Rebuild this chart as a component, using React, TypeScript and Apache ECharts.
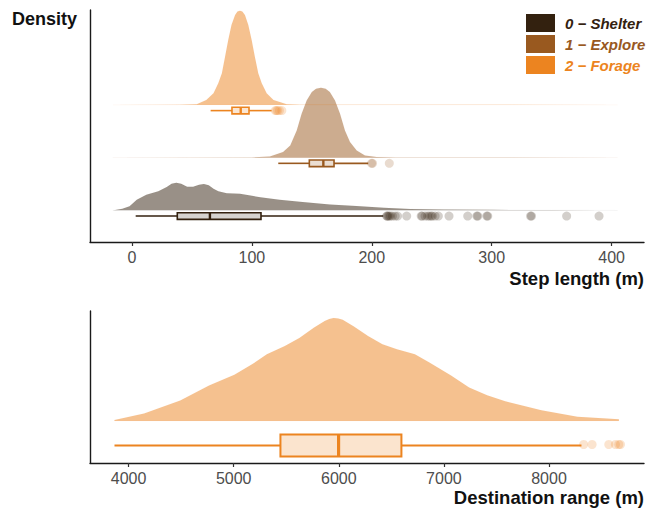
import React, { useEffect, useRef } from 'react';
import * as echarts from 'echarts';

// ---------- data ----------
const stateNames = ['0 − Shelter', '1 − Explore', '2 − Forage'];
const stateColors = ['#33210f', '#99591f', '#ec8420'];

const stepTicks = [0, 100, 200, 300, 400];
const rangeTicks = [4000, 5000, 6000, 7000, 8000];

// step length densities [step (m), density]
const shelterDensity: number[][] = [
  [-16, 0], [-14, 0.0001], [-8, 0.0006], [-2, 0.0016], [4, 0.0042], [12, 0.0062], [22, 0.0076],
  [29, 0.0093], [33, 0.0106], [37, 0.011], [41, 0.0106], [46, 0.0094], [51, 0.0094],
  [56, 0.0102], [60, 0.0105], [64, 0.01], [68, 0.0086], [72, 0.0076], [79, 0.0068],
  [90, 0.0066], [100, 0.0058], [107, 0.0052], [123, 0.0042], [140, 0.0034], [165, 0.0023],
  [187, 0.0017], [210, 0.001], [232, 0.00056], [260, 0.00032], [300, 0.0002], [350, 0.00012],
  [390, 0.00006], [405, 0],
];
const exploreDensity: number[][] = [
  [-16, 0], [100, 0.0001], [115, 0.0005], [126, 0.0023], [132, 0.0049], [137.4, 0.0109],
  [141.5, 0.0176], [145.7, 0.0229], [150, 0.0263], [153.5, 0.0276], [157.6, 0.028],
  [161.5, 0.0276], [165, 0.0263], [169.3, 0.0229], [173.5, 0.0176], [177.6, 0.0109],
  [181.8, 0.0063], [187.4, 0.0029], [194.3, 0.0009], [204, 0.0003], [220, 0.0001], [405, 0],
];
const forageDensity: number[][] = [
  [-16, 0], [40, 0.0001], [54, 0.0003], [62, 0.002], [68, 0.0047], [72, 0.0087], [75, 0.0127],
  [77.6, 0.0192], [80.3, 0.026], [83, 0.032], [86, 0.036], [88, 0.0374], [90, 0.0377],
  [92, 0.0374], [94.2, 0.036], [97, 0.032], [99.8, 0.026], [102.5, 0.0192], [105.3, 0.0127],
  [108.2, 0.0087], [112.3, 0.0047], [118, 0.002], [129, 0.0003], [140, 0.0001], [405, 0],
];

// boxplots [lower whisker, Q1, median, Q3, upper whisker]
const shelterBox = [3.1, 37.8, 65, 107.6, 209.6];
const exploreBox = [122, 147.9, 159.6, 168.5, 197];
const forageBox = [65.6, 83.4, 90.7, 97.6, 116.5];

const shelterOutliers = [
  212.4, 212.8, 213.6, 214.4, 215.6, 217.2, 219.5, 221.5, 229.1, 241.2, 242, 244.4, 246.5,
  248, 249.5, 250.5, 252.8, 255.5, 264.4, 280, 287.6, 288.4, 295.9, 296.7, 332.4, 333.2,
  362.5, 389.5,
];
const exploreOutliers = [199.8, 200.6, 214.6];
const forageOutliers = [119.5, 120.5, 121.5, 123, 125];

// destination range density [range (m), density x 1e-4]
const rangeDensity: number[][] = [
  [3866, 0.04], [4148, 0.32], [4492, 0.88], [4766, 1.52], [5007, 1.98], [5179, 2.43],
  [5316, 2.85], [5487, 3.2], [5625, 3.55], [5762, 3.98], [5866, 4.27], [5910, 4.36], [5951, 4.4],
  [5995, 4.38], [6037, 4.32], [6140, 4.05], [6278, 3.63], [6415, 3.28], [6553, 3.06], [6724, 2.85],
  [6862, 2.5], [7068, 1.94], [7240, 1.43], [7411, 1.1], [7583, 0.84], [7927, 0.46],
  [8270, 0.18], [8665, 0.07],
];
const rangeBox = [3866, 5445, 5998, 6596, 8309];
const rangeOutliers = [8330, 8410, 8569, 8632, 8664, 8680];

// ---------- styling constants ----------
const FONT = '"Liberation Sans", Arial, Helvetica, sans-serif';
const RIDGE_SCALE = 47.4; // ridge units per density unit
const TOP_BOX_OFFSET = 5.7; // px below ridge baseline
const TOP_BOX_HALF = 3.3;
const BOTTOM_BOX_OFFSET = 24.5;
const BOTTOM_BOX_HALF = 11;

function rgba(hex: string, a: number) {
  const h = hex.replace('#', '');
  const r = parseInt(h.slice(0, 2), 16);
  const g = parseInt(h.slice(2, 4), 16);
  const b = parseInt(h.slice(4, 6), 16);
  return `rgba(${r},${g},${b},${a})`;
}

function densitySeries(name: string, pts: number[][], level: number, scale: number, color: string, axis: number) {
  return {
    type: 'custom',
    name,
    xAxisIndex: axis,
    yAxisIndex: axis,
    silent: true,
    itemStyle: { color },
    encode: { x: 0, y: 1 },
    data: pts.map(([x, d]) => [x, level + d * scale]),
    renderItem: (params: any, api: any) => {
      if (params.dataIndex !== 0) return null;
      const top = pts.map(([x, d]) => api.coord([x, level + d * scale]));
      const first = api.coord([pts[0][0], level]);
      const last = api.coord([pts[pts.length - 1][0], level]);
      return {
        type: 'polygon',
        shape: { points: [first, ...top, last] },
        style: { fill: rgba(color, 0.5), stroke: rgba(color, 0.025), lineWidth: 1 },
      };
    },
  };
}

function boxSeries(name: string, box: number[], level: number, color: string, axis: number, offset: number, half: number, lw: number, medW: number, fillA: number) {
  return {
    type: 'custom',
    name,
    xAxisIndex: axis,
    yAxisIndex: axis,
    silent: true,
    encode: { x: [0, 1, 2, 3, 4], y: 5 },
    data: [[...box, level]],
    renderItem: (params: any, api: any) => {
      const lv = api.value(5);
      const p = [0, 1, 2, 3, 4].map((i) => api.coord([api.value(i), lv]));
      const y = p[0][1] + offset;
      return {
        type: 'group',
        children: [
          { type: 'line', shape: { x1: p[0][0], y1: y, x2: p[1][0], y2: y }, style: { stroke: color, lineWidth: lw } },
          { type: 'line', shape: { x1: p[3][0], y1: y, x2: p[4][0], y2: y }, style: { stroke: color, lineWidth: lw } },
          {
            type: 'rect',
            shape: { x: p[1][0], y: y - half, width: p[3][0] - p[1][0], height: half * 2 },
            style: { fill: rgba(color, fillA), stroke: color, lineWidth: lw },
          },
          { type: 'line', shape: { x1: p[2][0], y1: y - half, x2: p[2][0], y2: y + half }, style: { stroke: color, lineWidth: medW } },
        ],
      };
    },
  };
}

function outlierSeries(name: string, vals: number[], level: number, color: string, axis: number, offset: number, size: number) {
  return {
    type: 'scatter',
    name,
    xAxisIndex: axis,
    yAxisIndex: axis,
    silent: true,
    symbol: 'circle',
    symbolSize: size,
    symbolOffset: [0, offset],
    itemStyle: { color: rgba(color, 0.27) },
    data: vals.map((v) => [v, level]),
  };
}

export default function App() {
  const ref = useRef<HTMLDivElement>(null);
  useEffect(() => {
    if (!ref.current) return;
    const chart = echarts.init(ref.current, undefined, { renderer: 'svg' });
    const axisLine = { show: true, onZero: false, lineStyle: { color: '#1a1a1a', width: 1.4 } };
    const xLabel = { color: '#4d4d4d', fontSize: 16, margin: 7, fontFamily: FONT, formatter: (v: number) => String(v) };
    const densities = [shelterDensity, exploreDensity, forageDensity];
    const boxes = [shelterBox, exploreBox, forageBox];
    const outs = [shelterOutliers, exploreOutliers, forageOutliers];
    const series: any[] = [];
    [0, 1, 2].forEach((i) => {
      series.push(densitySeries(stateNames[i], densities[i], i, RIDGE_SCALE, stateColors[i], 0));
    });
    [0, 1, 2].forEach((i) => {
      series.push(boxSeries('box' + i, boxes[i], i, stateColors[i], 0, TOP_BOX_OFFSET, TOP_BOX_HALF, 1.6, 2.4, 0.2));
      series.push(outlierSeries('out' + i, outs[i], i, stateColors[i], 0, TOP_BOX_OFFSET, 9));
    });
    series.push(densitySeries('range', rangeDensity, 0, 1, stateColors[2], 1));
    series.push(boxSeries('rangeBox', rangeBox, 0, stateColors[2], 1, BOTTOM_BOX_OFFSET, BOTTOM_BOX_HALF, 2, 3.2, 0.22));
    series.push(outlierSeries('rangeOut', rangeOutliers, 0, stateColors[2], 1, BOTTOM_BOX_OFFSET - 1, 9));

    const option: any = {
      animation: false,
      grid: [
        { left: 90, top: 10, width: 554, height: 232 },
        { left: 90, top: 311, width: 554, height: 152 },
      ],
      xAxis: [
        {
          type: 'value', gridIndex: 0, min: -35, max: 427,
          axisLine,
          axisTick: { show: true, customValues: stepTicks, length: 4, lineStyle: { color: '#333', width: 1.2 } },
          axisLabel: { ...xLabel, customValues: stepTicks },
          splitLine: { show: false },
        },
        {
          type: 'value', gridIndex: 1, min: 3633, max: 8904,
          axisLine,
          axisTick: { show: true, customValues: rangeTicks, length: 4, lineStyle: { color: '#333', width: 1.2 } },
          axisLabel: { ...xLabel, customValues: rangeTicks },
          splitLine: { show: false },
        },
      ],
      yAxis: [
        {
          type: 'value', gridIndex: 0, min: -0.6, max: 3.8,
          axisLine, axisTick: { show: false }, axisLabel: { show: false }, splitLine: { show: false },
        },
        {
          type: 'value', gridIndex: 1, min: -1.794, max: 4.699,
          axisLine, axisTick: { show: false }, axisLabel: { show: false }, splitLine: { show: false },
        },
      ],
      legend: {
        orient: 'vertical', left: 526, top: 14, padding: 0,
        itemWidth: 29, itemHeight: 18, itemGap: 3, icon: 'rect',
        selectedMode: false,
        data: stateNames.map((n, i) => ({ name: n, textStyle: { color: stateColors[i] } })),
        textStyle: { fontSize: 15, fontWeight: 'bold', fontStyle: 'italic', fontFamily: FONT, lineHeight: 18, padding: [0, 0, 0, 5] },
      },
      graphic: [
        { type: 'text', left: 12, top: 10, style: { text: 'Density', font: `bold 18px ${FONT}`, fill: '#111' } },
        { type: 'text', right: 12, top: 269, style: { text: 'Step length (m)', font: `bold 18.5px ${FONT}`, fill: '#111' } },
        { type: 'text', right: 12, top: 488, style: { text: 'Destination range (m)', font: `bold 18.5px ${FONT}`, fill: '#111' } },
      ],
      series,
    };
    chart.setOption(option);
    return () => chart.dispose();
  }, []);
  return <div ref={ref} style={{ position: 'absolute', left: 0, top: 0, width: 656, height: 512 }} />;
}
